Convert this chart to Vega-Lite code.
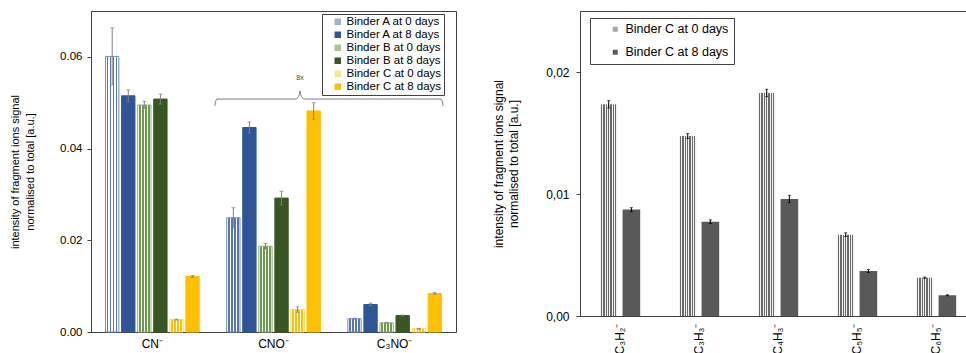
{
  "$schema": "https://vega.github.io/schema/vega-lite/v6.json",
  "padding": {"left": 9, "top": 10, "right": 0, "bottom": 0},
  "spacing": 35,
  "resolve": {"scale": {"color": "independent", "stroke": "independent", "xOffset": "independent", "x": "independent", "y": "independent"}, "legend": {"color": "independent"}},
  "config": {
    "font": "Liberation Sans",
    "view": {"stroke": "#404040", "strokeWidth": 1},
    "axis": {"domainColor": "#404040", "tickColor": "#404040", "labelColor": "#000000", "titleColor": "#000000", "labelFont": "Liberation Sans", "titleFont": "Liberation Sans", "titleFontWeight": "normal", "grid": false}
  },
  "hconcat": [
    {
      "width": 365,
      "height": 321,
      "layer": [
        {
          "data": {"values": [
            {"ion": "CN⁻", "series": "Binder A at 0 days", "v": 0.0601, "e": 0.0062},
            {"ion": "CN⁻", "series": "Binder A at 8 days", "v": 0.0515, "e": 0.0013},
            {"ion": "CN⁻", "series": "Binder B at 0 days", "v": 0.0495, "e": 0.0008},
            {"ion": "CN⁻", "series": "Binder B at 8 days", "v": 0.0508, "e": 0.0011},
            {"ion": "CN⁻", "series": "Binder C at 0 days", "v": 0.0027, "e": 0.0001},
            {"ion": "CN⁻", "series": "Binder C at 8 days", "v": 0.0121, "e": 0.0002},
            {"ion": "CNO⁻", "series": "Binder A at 0 days", "v": 0.0249, "e": 0.0022},
            {"ion": "CNO⁻", "series": "Binder A at 8 days", "v": 0.0446, "e": 0.0012},
            {"ion": "CNO⁻", "series": "Binder B at 0 days", "v": 0.0187, "e": 0.0006},
            {"ion": "CNO⁻", "series": "Binder B at 8 days", "v": 0.0292, "e": 0.0015},
            {"ion": "CNO⁻", "series": "Binder C at 0 days", "v": 0.0049, "e": 0.0006},
            {"ion": "CNO⁻", "series": "Binder C at 8 days", "v": 0.0482, "e": 0.0018},
            {"ion": "C₃NO⁻", "series": "Binder A at 0 days", "v": 0.0029, "e": 0.0001},
            {"ion": "C₃NO⁻", "series": "Binder A at 8 days", "v": 0.0060, "e": 0.0003},
            {"ion": "C₃NO⁻", "series": "Binder B at 0 days", "v": 0.0020, "e": 0.0001},
            {"ion": "C₃NO⁻", "series": "Binder B at 8 days", "v": 0.0036, "e": 0.0001},
            {"ion": "C₃NO⁻", "series": "Binder C at 0 days", "v": 0.0007, "e": 0.0001},
            {"ion": "C₃NO⁻", "series": "Binder C at 8 days", "v": 0.0084, "e": 0.0002}
          ]},
          "encoding": {
            "x": {"field": "ion", "type": "nominal", "sort": ["CN⁻", "CNO⁻", "C₃NO⁻"], "scale": {"paddingInner": 0.227, "paddingOuter": 0.12}, "axis": {"title": null, "labelAngle": 0, "ticks": false, "labelPadding": 6, "labelFontSize": 12, "domain": false}},
            "xOffset": {"field": "series", "type": "nominal", "sort": ["Binder A at 0 days", "Binder A at 8 days", "Binder B at 0 days", "Binder B at 8 days", "Binder C at 0 days", "Binder C at 8 days"], "scale": {"paddingInner": 0.17, "paddingOuter": 0}},
            "y": {"field": "v", "type": "quantitative", "scale": {"domain": [0, 0.07], "nice": false}, "axis": {"title": ["intensity of fragment ions signal", "normalised to total [a.u.]"], "values": [0, 0.02, 0.04, 0.06], "format": ".2f", "tickSize": 4, "labelPadding": 5, "labelFontSize": 11.5, "titleFontSize": 11, "titleLineHeight": 15, "titlePadding": 24}}
          },
          "layer": [
            {
              "mark": {"type": "bar", "strokeWidth": 1},
              "encoding": {
                "color": {
                  "field": "series", "type": "nominal",
                  "scale": {"domain": ["Binder A at 0 days", "Binder A at 8 days", "Binder B at 0 days", "Binder B at 8 days", "Binder C at 0 days", "Binder C at 8 days"], "range": ["#9fb2d6", "#2F5597", "#a9c496", "#375623", "#ffe08f", "#FFC000"]},
                  "legend": {"title": null, "orient": "none", "legendX": 231, "legendY": 3, "fillColor": "#ffffff", "strokeColor": "#404040", "padding": 2, "symbolType": "square", "symbolSize": 42, "symbolStrokeWidth": 0, "labelFontSize": 11.5, "labelFont": "Liberation Sans", "labelColor": "#000000", "rowPadding": 0, "symbolOffset": 8, "labelOffset": 3},
                  "condition": [
                    {"test": "datum.series === 'Binder A at 0 days'", "value": {"gradient": "linear", "x1": 0, "y1": 0, "x2": 1, "y2": 0, "stops": [{"offset": 0, "color": "#ffffff"}, {"offset": 0.111, "color": "#ffffff"}, {"offset": 0.111, "color": "#5577b5"}, {"offset": 0.222, "color": "#5577b5"}, {"offset": 0.222, "color": "#ffffff"}, {"offset": 0.333, "color": "#ffffff"}, {"offset": 0.333, "color": "#5577b5"}, {"offset": 0.444, "color": "#5577b5"}, {"offset": 0.444, "color": "#ffffff"}, {"offset": 0.556, "color": "#ffffff"}, {"offset": 0.556, "color": "#5577b5"}, {"offset": 0.667, "color": "#5577b5"}, {"offset": 0.667, "color": "#ffffff"}, {"offset": 0.778, "color": "#ffffff"}, {"offset": 0.778, "color": "#5577b5"}, {"offset": 0.889, "color": "#5577b5"}, {"offset": 0.889, "color": "#ffffff"}, {"offset": 1, "color": "#ffffff"}]}},
                    {"test": "datum.series === 'Binder B at 0 days'", "value": {"gradient": "linear", "x1": 0, "y1": 0, "x2": 1, "y2": 0, "stops": [{"offset": 0, "color": "#ffffff"}, {"offset": 0.111, "color": "#ffffff"}, {"offset": 0.111, "color": "#6e9a4e"}, {"offset": 0.222, "color": "#6e9a4e"}, {"offset": 0.222, "color": "#ffffff"}, {"offset": 0.333, "color": "#ffffff"}, {"offset": 0.333, "color": "#6e9a4e"}, {"offset": 0.444, "color": "#6e9a4e"}, {"offset": 0.444, "color": "#ffffff"}, {"offset": 0.556, "color": "#ffffff"}, {"offset": 0.556, "color": "#6e9a4e"}, {"offset": 0.667, "color": "#6e9a4e"}, {"offset": 0.667, "color": "#ffffff"}, {"offset": 0.778, "color": "#ffffff"}, {"offset": 0.778, "color": "#6e9a4e"}, {"offset": 0.889, "color": "#6e9a4e"}, {"offset": 0.889, "color": "#ffffff"}, {"offset": 1, "color": "#ffffff"}]}},
                    {"test": "datum.series === 'Binder C at 0 days'", "value": {"gradient": "linear", "x1": 0, "y1": 0, "x2": 1, "y2": 0, "stops": [{"offset": 0, "color": "#ffffff"}, {"offset": 0.111, "color": "#ffffff"}, {"offset": 0.111, "color": "#FFC000"}, {"offset": 0.222, "color": "#FFC000"}, {"offset": 0.222, "color": "#ffffff"}, {"offset": 0.333, "color": "#ffffff"}, {"offset": 0.333, "color": "#FFC000"}, {"offset": 0.444, "color": "#FFC000"}, {"offset": 0.444, "color": "#ffffff"}, {"offset": 0.556, "color": "#ffffff"}, {"offset": 0.556, "color": "#FFC000"}, {"offset": 0.667, "color": "#FFC000"}, {"offset": 0.667, "color": "#ffffff"}, {"offset": 0.778, "color": "#ffffff"}, {"offset": 0.778, "color": "#FFC000"}, {"offset": 0.889, "color": "#FFC000"}, {"offset": 0.889, "color": "#ffffff"}, {"offset": 1, "color": "#ffffff"}]}}
                  ]
                },
                "stroke": {"field": "series", "type": "nominal", "scale": {"domain": ["Binder A at 0 days", "Binder A at 8 days", "Binder B at 0 days", "Binder B at 8 days", "Binder C at 0 days", "Binder C at 8 days"], "range": ["#6f8cc4", "#2F5597", "#8fb071", "#375623", "#ffd24d", "#FFC000"]}, "legend": null}
              }
            },
            {
              "mark": {"type": "errorbar", "color": "#808080", "thickness": 1, "ticks": {"size": 4, "color": "#808080"}},
              "encoding": {"yError": {"field": "e"}}
            }
          ]
        },
        {
          "data": {"values": [
            {"bx": 1.019, "by": 0.0493},
            {"bx": 1.023, "by": 0.0503},
            {"bx": 1.035, "by": 0.0508},
            {"bx": 1.69, "by": 0.0508},
            {"bx": 1.708, "by": 0.0514},
            {"bx": 1.718, "by": 0.0526},
            {"bx": 1.728, "by": 0.0514},
            {"bx": 1.746, "by": 0.0508},
            {"bx": 2.877, "by": 0.0508},
            {"bx": 2.889, "by": 0.0503},
            {"bx": 2.893, "by": 0.0493}
          ]},
          "mark": {"type": "line", "color": "#7f7f7f", "strokeWidth": 1},
          "encoding": {
            "x": {"field": "bx", "type": "quantitative", "scale": {"domain": [0, 3], "nice": false, "zero": false}, "axis": null},
            "y": {"field": "by", "type": "quantitative", "scale": {"domain": [0, 0.07], "nice": false}}
          }
        },
        {
          "data": {"values": [{"bx": 1.718, "by": 0.0553, "label": "8x"}]},
          "mark": {"type": "text", "fontSize": 7, "color": "#404040", "font": "Liberation Sans"},
          "encoding": {
            "x": {"field": "bx", "type": "quantitative", "scale": {"domain": [0, 3], "nice": false, "zero": false}, "axis": null},
            "y": {"field": "by", "type": "quantitative", "scale": {"domain": [0, 0.07], "nice": false}},
            "text": {"field": "label"}
          }
        }
      ],
      "resolve": {"scale": {"x": "independent"}}
    },
    {
      "width": 386,
      "height": 305,
      "data": {"values": [
        {"ion": "C₃H₂⁻", "series": "Binder C at 0 days", "v": 0.01735, "e": 0.0003},
        {"ion": "C₃H₂⁻", "series": "Binder C at 8 days", "v": 0.00872, "e": 0.00016},
        {"ion": "C₃H₃⁻", "series": "Binder C at 0 days", "v": 0.01475, "e": 0.0002},
        {"ion": "C₃H₃⁻", "series": "Binder C at 8 days", "v": 0.00773, "e": 0.00015},
        {"ion": "C₄H₃⁻", "series": "Binder C at 0 days", "v": 0.01828, "e": 0.0003},
        {"ion": "C₄H₃⁻", "series": "Binder C at 8 days", "v": 0.00959, "e": 0.0003},
        {"ion": "C₅H₅⁻", "series": "Binder C at 0 days", "v": 0.00667, "e": 0.00015},
        {"ion": "C₅H₅⁻", "series": "Binder C at 8 days", "v": 0.00369, "e": 0.00012},
        {"ion": "C₆H₅⁻", "series": "Binder C at 0 days", "v": 0.00314, "e": 0.00005},
        {"ion": "C₆H₅⁻", "series": "Binder C at 8 days", "v": 0.0017, "e": 0.00004}
      ]},
      "encoding": {
        "x": {"field": "ion", "type": "nominal", "sort": ["C₃H₂⁻", "C₃H₃⁻", "C₄H₃⁻", "C₅H₅⁻", "C₆H₅⁻"], "scale": {"paddingInner": 0.49, "paddingOuter": 0.188, "align": 0.67}, "axis": {"title": null, "labelAngle": 270, "ticks": false, "labelPadding": 7, "labelFontSize": 12, "domain": false}},
        "xOffset": {"field": "series", "type": "nominal", "sort": ["Binder C at 0 days", "Binder C at 8 days"], "scale": {"paddingInner": 0.222, "paddingOuter": 0}},
        "y": {"field": "v", "type": "quantitative", "scale": {"domain": [0, 0.025], "nice": false}, "axis": {"title": ["intensity of fragment ions signal", "normalised to total [a.u.]"], "values": [0, 0.01, 0.02], "labelExpr": "replace(format(datum.value, '.2f'), '.', ',')", "tickSize": 4, "labelPadding": 7, "labelFontSize": 12, "titleFontSize": 12, "titleLineHeight": 15, "titlePadding": 25}}
      },
      "layer": [
        {
          "mark": {"type": "bar"},
          "encoding": {
            "color": {
              "field": "series", "type": "nominal",
              "scale": {"domain": ["Binder C at 0 days", "Binder C at 8 days"], "range": ["#a6a6a6", "#595959"]},
              "legend": {"title": null, "orient": "none", "legendX": 10, "legendY": 7, "fillColor": "#ffffff", "strokeColor": "#404040", "padding": 5, "symbolType": "square", "symbolSize": 25, "symbolStrokeWidth": 0, "labelFontSize": 12.5, "labelFont": "Liberation Sans", "labelColor": "#000000", "rowPadding": 10, "symbolOffset": 14, "labelOffset": 4},
              "condition": {"test": "datum.series === 'Binder C at 0 days'", "value": {"gradient": "linear", "x1": 0, "y1": 0, "x2": 1, "y2": 0, "stops": [{"offset": 0, "color": "#f2f2f2"}, {"offset": 0.0667, "color": "#f2f2f2"}, {"offset": 0.0667, "color": "#6a6a6a"}, {"offset": 0.1333, "color": "#6a6a6a"}, {"offset": 0.1333, "color": "#f2f2f2"}, {"offset": 0.2, "color": "#f2f2f2"}, {"offset": 0.2, "color": "#6a6a6a"}, {"offset": 0.2667, "color": "#6a6a6a"}, {"offset": 0.2667, "color": "#f2f2f2"}, {"offset": 0.3333, "color": "#f2f2f2"}, {"offset": 0.3333, "color": "#6a6a6a"}, {"offset": 0.4, "color": "#6a6a6a"}, {"offset": 0.4, "color": "#f2f2f2"}, {"offset": 0.4667, "color": "#f2f2f2"}, {"offset": 0.4667, "color": "#6a6a6a"}, {"offset": 0.5333, "color": "#6a6a6a"}, {"offset": 0.5333, "color": "#f2f2f2"}, {"offset": 0.6, "color": "#f2f2f2"}, {"offset": 0.6, "color": "#6a6a6a"}, {"offset": 0.6667, "color": "#6a6a6a"}, {"offset": 0.6667, "color": "#f2f2f2"}, {"offset": 0.7333, "color": "#f2f2f2"}, {"offset": 0.7333, "color": "#6a6a6a"}, {"offset": 0.8, "color": "#6a6a6a"}, {"offset": 0.8, "color": "#f2f2f2"}, {"offset": 0.8667, "color": "#f2f2f2"}, {"offset": 0.8667, "color": "#6a6a6a"}, {"offset": 0.9333, "color": "#6a6a6a"}, {"offset": 0.9333, "color": "#f2f2f2"}, {"offset": 1, "color": "#f2f2f2"}]}}
            }
          }
        },
        {
          "mark": {"type": "errorbar", "color": "#000000", "thickness": 1, "ticks": {"size": 3, "color": "#000000"}},
          "encoding": {"yError": {"field": "e"}}
        }
      ]
    }
  ]
}
